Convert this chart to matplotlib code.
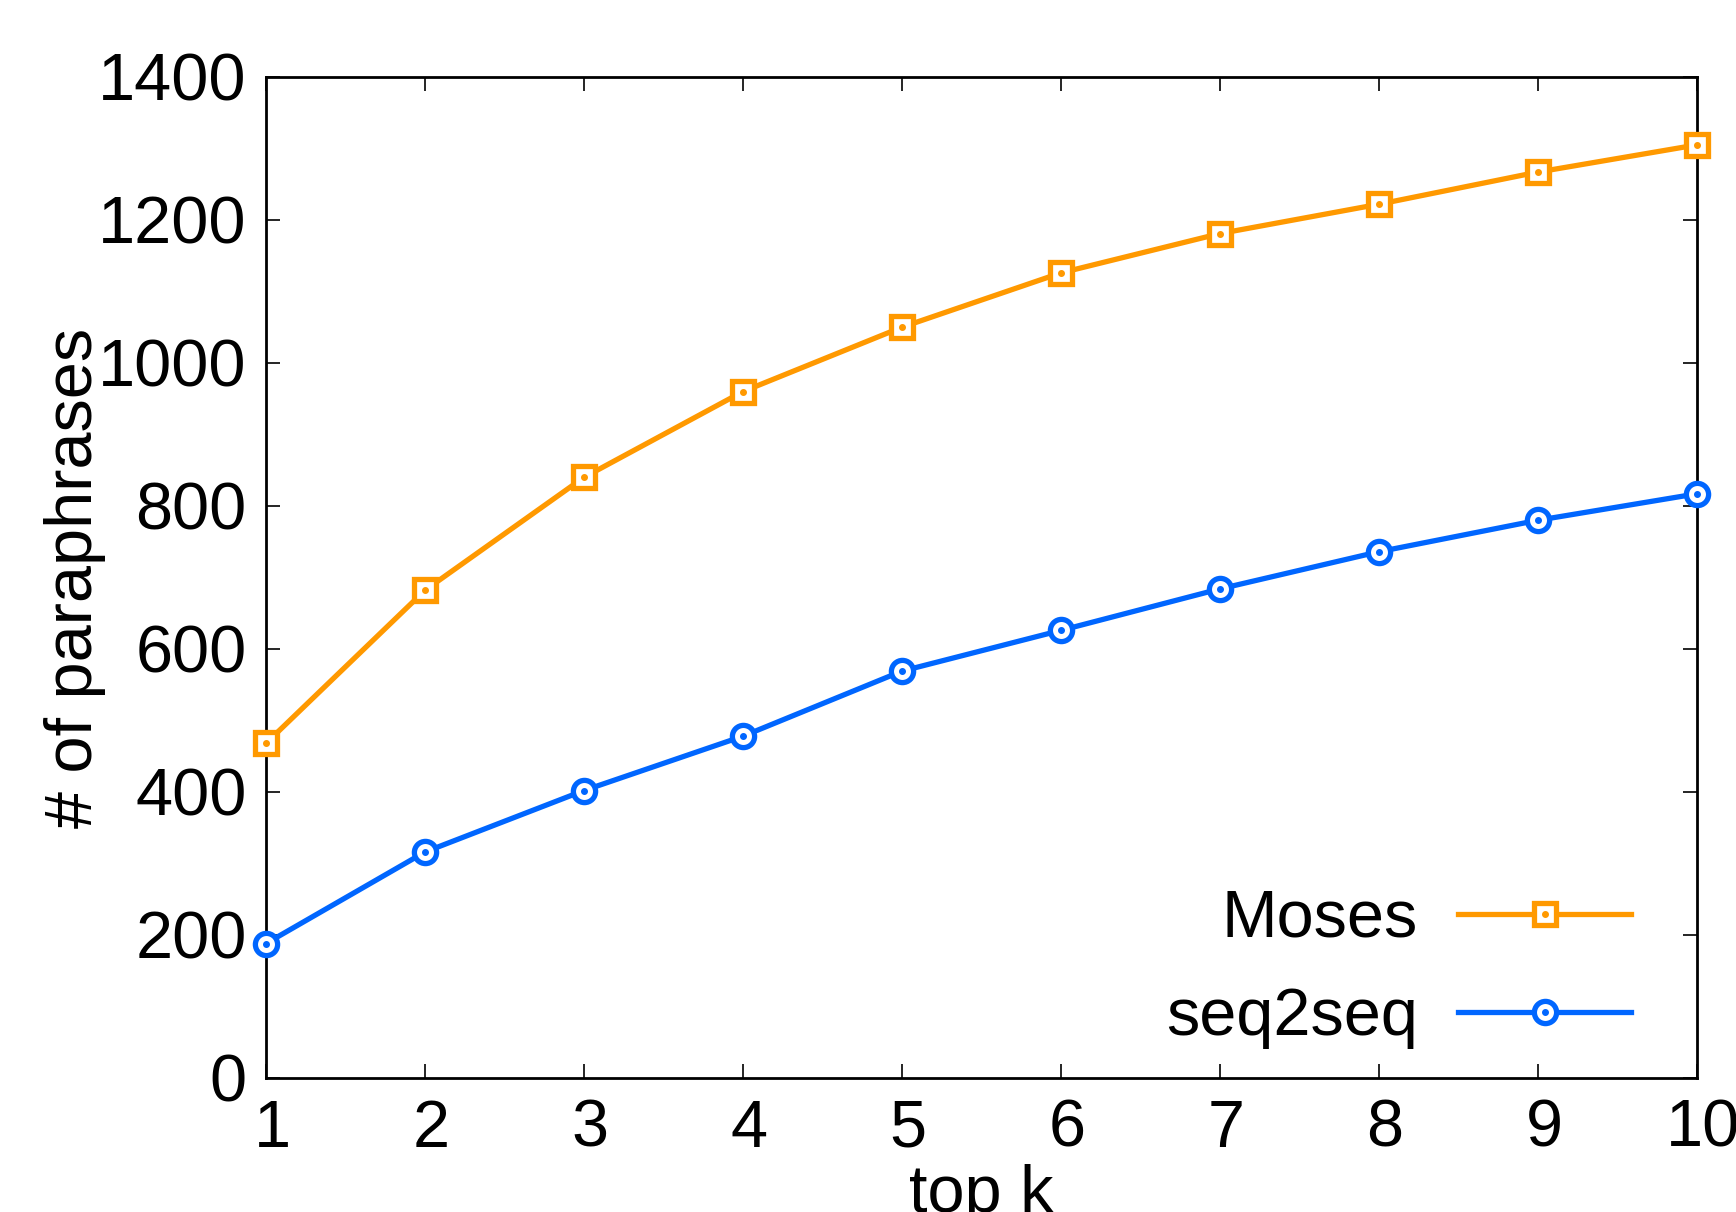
import matplotlib
matplotlib.use("Agg")
import matplotlib.pyplot as plt
from matplotlib.legend_handler import HandlerTuple
from matplotlib.transforms import ScaledTranslation

k = [1, 2, 3, 4, 5, 6, 7, 8, 9, 10]
moses = [468, 682, 840, 960, 1050, 1126, 1181, 1222, 1267, 1305]
seq2seq = [188, 316, 402, 478, 569, 626, 684, 736, 780, 817]
yticks = [0, 200, 400, 600, 800, 1000, 1200, 1400]

plt.rcParams['font.family'] = ['Liberation Sans', 'DejaVu Sans']

fig = plt.figure(figsize=(17.36, 12.12), dpi=100)
ax = fig.add_axes([0.1532, 0.1106, 0.9775 - 0.1532, 0.9365 - 0.1106])

orange = '#FF9900'
blue = '#0066FF'

l1, = ax.plot(k, moses, color=orange, lw=3.8, marker='s', ms=16, mfc='white',
              mec=orange, mew=3.8, clip_on=False, zorder=3)
d1, = ax.plot(k, moses, ls='none', marker='o', ms=4, color=orange, clip_on=False, zorder=4)
l2, = ax.plot(k, seq2seq, color=blue, lw=3.8, marker='o', ms=16, mfc='white',
              mec=blue, mew=3.8, clip_on=False, zorder=3)
d2, = ax.plot(k, seq2seq, ls='none', marker='o', ms=4, color=blue, clip_on=False, zorder=4)

ax.set_xlim(1, 10)
ax.set_ylim(0, 1400)
ax.set_xticks(k)
ax.set_yticks(yticks)
ax.tick_params(direction='in', length=10, width=1.2, top=True, right=True,
               labelsize=48)
ax.tick_params(axis='x', pad=15)
ax.tick_params(axis='y', pad=14)
for s in ax.spines.values():
    s.set_linewidth(2)

off = ScaledTranslation(6 / 100, 0, fig.dpi_scale_trans)
for lab in ax.get_xticklabels():
    lab.set_transform(lab.get_transform() + off)

ax.set_xlabel('top k', fontsize=48, labelpad=2)
ax.set_ylabel('# of paraphrases', fontsize=48, labelpad=-6)

leg = ax.legend([(l1, d1), (l2, d2)], ['Moses', 'seq2seq'],
                handler_map={tuple: HandlerTuple(ndivide=1)},
                loc='lower right', bbox_to_anchor=(0.996, -0.031),
                frameon=False, markerfirst=False, fontsize=48,
                handlelength=2.6, handletextpad=0.6, labelspacing=0.54,
                numpoints=1)

fig.savefig('out.png', dpi=100)
